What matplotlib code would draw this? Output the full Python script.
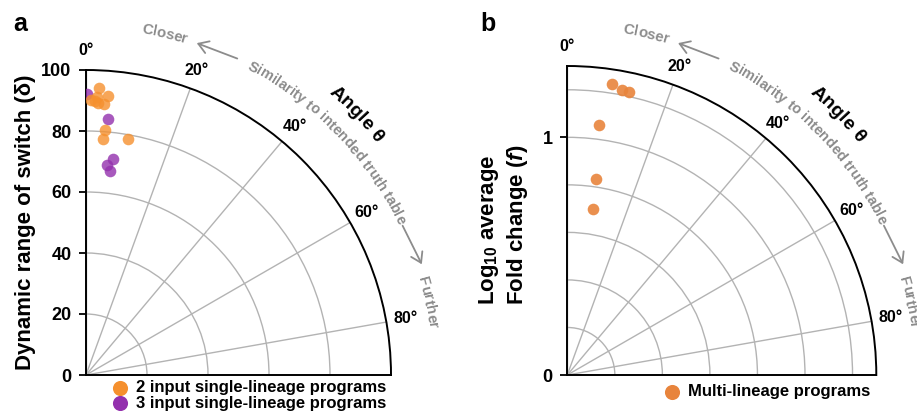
import numpy as np
import matplotlib
matplotlib.use('Agg')
from matplotlib import pyplot as plt
from matplotlib import font_manager
from matplotlib.ft2font import FT2Font

plt.rcParams['font.family'] = ['Liberation Sans', 'DejaVu Sans']
plt.rcParams['font.weight'] = 'bold'
plt.rcParams['mathtext.fontset'] = 'custom'
plt.rcParams['mathtext.rm'] = 'Liberation Sans:bold'
plt.rcParams['mathtext.it'] = 'Liberation Sans:bold:italic'
plt.rcParams['mathtext.bf'] = 'Liberation Sans:bold'

# panel a: angle (deg from vertical) and dynamic range
theta_2in = [2.5, 4.6, 1.1, 2.3, 2.6, 3.7, 1.8, 4.4, 4.2, 10.2]
r_2in = [94.1, 91.9, 90.3, 91.3, 89.3, 89.0, 90.0, 80.7, 77.7, 78.5]
theta_3in = [0.2, 5.0, 7.0, 5.8, 6.6]
r_3in = [92.0, 84.2, 71.3, 69.3, 67.4]

# panel b: angle and log10 average fold change
theta_multi = [8.7, 10.8, 12.2, 7.3, 8.3, 8.7]
r_multi = [1.237, 1.219, 1.219, 1.060, 0.832, 0.706]

angle_ticks = [0, 20, 40, 60, 80]
angle_labels = ['0°', '20°', '40°', '60°', '80°']

ORANGE = '#f5902e'
PURPLE = '#9330ad'
ORANGE_B = '#e8843c'
GREY = '#8c8c8c'

fig = plt.figure(figsize=(9.17, 4.11), dpi=100)
W, H = 917, 411

font_path = font_manager.findfont(font_manager.FontProperties(family='Liberation Sans', weight='bold'))
ft = FT2Font(font_path)


def advance_px(ch, fs):
    ft.set_size(fs, 72)
    g = ft.load_char(ord(ch))
    return g.linearHoriAdvance / 65536.0 * 100 / 72


def arc_text(ax, txt, theta_mid, r_px, px_per_unit, fs, color):
    # place each character along a circle around the origin
    adv = [advance_px(c, fs) for c in txt]
    total = sum(adv)
    start = np.deg2rad(theta_mid) - (total / 2) / r_px
    pos = 0.0
    for c, a in zip(txt, adv):
        th = start + (pos + a / 2) / r_px
        pos += a
        ax.text(th, r_px / px_per_unit, c, fontsize=fs, color=color, fontweight='bold',
                ha='center', va='center', rotation=-np.rad2deg(th),
                rotation_mode='anchor', clip_on=False)


def make_panel(rect, rmax, rticks, rlabels, rgrid):
    ax = fig.add_axes(rect, projection='polar')
    ax.set_theta_zero_location('N')
    ax.set_theta_direction(-1)
    ax.set_thetamin(0)
    ax.set_thetamax(90)
    ax.set_rlim(0, rmax)
    ax.set_xticks(np.deg2rad(angle_ticks))
    ax.set_xticklabels(angle_labels)
    ax.tick_params(axis='x', length=0, pad=7, labelsize=11.5)
    ax.set_yticks(rgrid)
    ax.set_yticklabels([])
    ax.tick_params(axis='y', length=0)
    ax.grid(True, color='#b3b3b3', lw=1)
    for s in ax.spines.values():
        s.set_color('black')
        s.set_linewidth(1.4)
    # plain axes on top, only for the radial ticks on the left edge
    lin = fig.add_axes(rect)
    lin.patch.set_visible(False)
    lin.set_ylim(0, rmax)
    lin.set_xticks([])
    lin.set_yticks(rticks)
    lin.set_yticklabels(rlabels)
    lin.tick_params(axis='y', length=5, width=1.3, pad=5.5, labelsize=13)
    for s in lin.spines.values():
        s.set_visible(False)
    return ax, lin


# panel a
axa, lina = make_panel([86 / W, (H - 375) / H, 305 / W, 305 / H], 100,
                       [0, 20, 40, 60, 80, 100], ['0', '20', '40', '60', '80', '100'],
                       [20, 40, 60, 80])
p3 = axa.scatter(np.deg2rad(theta_3in), r_3in, s=70, color=PURPLE, alpha=0.8, lw=0, zorder=3)
p2 = axa.scatter(np.deg2rad(theta_2in), r_2in, s=70, color=ORANGE, alpha=0.8, lw=0, zorder=3)
lina.set_ylabel('Dynamic range of switch (δ)', fontsize=16, fontweight='bold')
lina.yaxis.set_label_coords(-0.165, 0.5)
leg = axa.legend([p2, p3], ['2 input single-lineage programs', '3 input single-lineage programs'],
                 loc='upper left', bbox_to_anchor=(103 / W, 1 - 380 / H), bbox_transform=fig.transFigure,
                 frameon=False, fontsize=12, handletextpad=0.0, labelspacing=0.05,
                 borderpad=0, borderaxespad=0, markerscale=1.3)
for h in leg.legend_handles:
    h.set_alpha(1)

# panel b
axb, linb = make_panel([567.3 / W, (H - 375) / H, 309 / W, 309 / H], 1.3,
                       [0, 1], ['0', '1'], [0.2, 0.4, 0.6, 0.8, 1.0, 1.2])
pm = axb.scatter(np.deg2rad(theta_multi), r_multi, s=70, color=ORANGE_B, alpha=0.9, lw=0, zorder=3)
linb.set_ylabel('Log$_{10}$ average\nFold change ($\\mathit{f}$)', fontsize=16, fontweight='bold',
                multialignment='left')
linb.yaxis.set_label_coords(-0.122, 0.485)
legb = axb.legend([pm], ['Multi-lineage programs'], loc='upper left',
                  bbox_to_anchor=(655 / W, 1 - 384 / H), bbox_transform=fig.transFigure,
                  frameon=False, fontsize=12, handletextpad=0.0, borderpad=0, borderaxespad=0,
                  markerscale=1.3)
for h in legb.legend_handles:
    h.set_alpha(1)

# angle annotations around the arcs
for ax, size, rmax in [(axa, 305, 100), (axb, 309, 1.3)]:
    ppu = size / rmax
    arc_text(ax, 'Closer', 13, 350, ppu, 10.8, GREY)
    arc_text(ax, 'Similarity to intended truth table', 46, 350, ppu, 10.5, GREY)
    arc_text(ax, 'Further', 78, 350, ppu, 10.8, GREY)
    arc_text(ax, 'Angle θ', 46, 376, ppu, 14, 'black')
    arr = dict(arrowstyle='->,head_length=0.7,head_width=0.45', color=GREY, lw=1.3)
    ax.annotate('', xy=(np.deg2rad(18), 350 / ppu), xytext=(np.deg2rad(26), 351 / ppu),
                arrowprops=arr, annotation_clip=False)
    ax.annotate('', xy=(np.deg2rad(72.2), 354 / ppu), xytext=(np.deg2rad(64.3), 350 / ppu),
                arrowprops=arr, annotation_clip=False)

fig.text(20 / W, 1 - 24 / H, 'a', fontsize=18, fontweight='bold', ha='center', va='center')
fig.text(488 / W, 1 - 24 / H, 'b', fontsize=18, fontweight='bold', ha='center', va='center')

fig.savefig('out.png', dpi=100)
